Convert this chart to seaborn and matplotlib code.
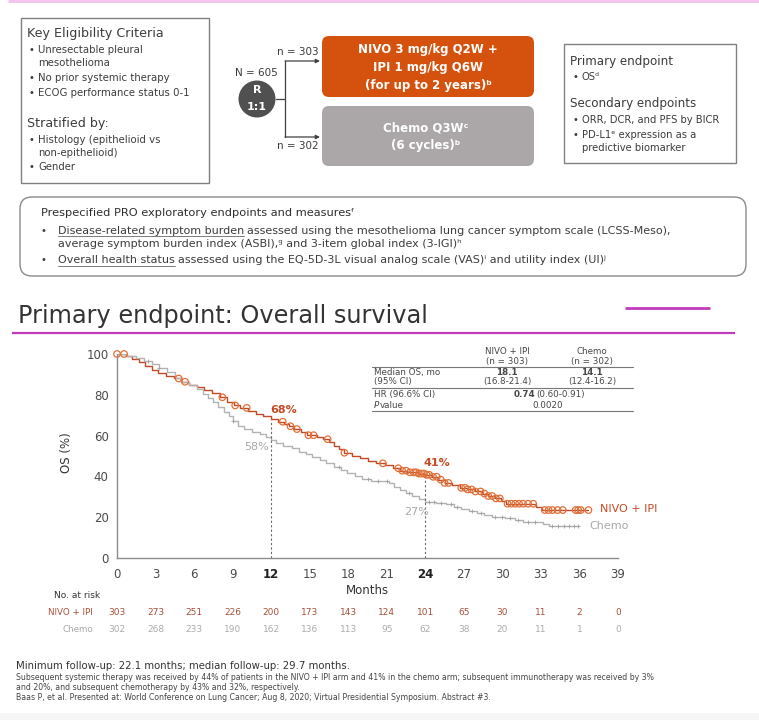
import numpy as np
import pandas as pd
import matplotlib
matplotlib.use("Agg")
import matplotlib.pyplot as plt
import seaborn as sns
from matplotlib.patches import FancyBboxPatch, Rectangle, Circle
import matplotlib.transforms as mtransforms

# ---------------- data ----------------
month_ticks = list(range(0, 40, 3))
nivo_at_risk = [303, 273, 251, 226, 200, 173, 143, 124, 101, 65, 30, 11, 2, 0]
chemo_at_risk = [302, 268, 233, 190, 162, 136, 113, 95, 62, 38, 20, 11, 1, 0]

nivo_t = [0, 0.7, 1.2, 1.7, 2.2, 2.7, 3.2, 3.8, 4.4, 5.0, 5.6, 6.2, 6.8, 7.4, 8.0, 8.6, 9.1, 9.6,
          10.2, 10.8, 11.4, 12.0, 12.5, 13.0, 13.4, 13.8, 14.3, 14.8, 15.6, 16.0, 16.5, 16.9, 17.3,
          17.7, 18.3, 18.9, 19.5, 20.2, 20.9, 21.5, 22.0, 22.6, 23.4, 24.0, 24.5, 25.0, 25.5, 26.1,
          26.7, 27.3, 27.9, 28.4, 28.9, 29.4, 29.9, 30.3, 32.6, 33.1, 36.7]
nivo_s = [100, 99.0, 97.6, 96.0, 94.2, 92.2, 90.6, 89.4, 88.0, 86.4, 84.8, 83.6, 82.4, 80.8, 78.8,
          76.6, 74.8, 73.6, 72.2, 70.8, 69.4, 68.0, 66.8, 65.8, 64.6, 63.2, 61.8, 60.2, 59.2, 58.2,
          56.8, 55.0, 53.2, 51.6, 50.2, 48.8, 47.6, 46.4, 45.4, 44.0, 42.8, 42.0, 41.4, 40.8, 39.8,
          38.4, 36.8, 35.6, 34.4, 33.6, 32.6, 31.6, 30.4, 29.2, 28.0, 26.6, 25.2, 23.5, 23.5]

chemo_t = [0, 0.8, 1.5, 2.1, 2.7, 3.3, 3.9, 4.5, 5.0, 5.6, 6.2, 6.7, 7.1, 7.5, 7.9, 8.3, 8.7, 9.0,
           9.4, 9.9, 10.5, 11.1, 11.6, 12.0, 12.4, 12.9, 13.6, 14.2, 14.7, 15.2, 15.8, 16.3, 16.9,
           17.4, 17.9, 18.5, 19.1, 19.8, 21.2, 21.6, 22.0, 22.5, 23.0, 23.5, 24.0, 24.8, 25.6, 26.2,
           26.8, 27.4, 28.0, 28.6, 29.2, 30.2, 31.0, 31.6, 33.2, 33.6, 36.0]
chemo_s = [100, 99.2, 98.0, 96.6, 95.0, 93.2, 91.0, 88.2, 86.4, 84.8, 82.6, 80.6, 78.6, 76.4, 74.0,
           71.8, 69.6, 67.2, 64.8, 63.4, 62.0, 60.6, 59.2, 58.0, 56.2, 55.0, 53.8, 52.2, 50.8, 49.6,
           48.0, 46.4, 44.6, 43.0, 41.6, 40.0, 38.8, 37.6, 36.6, 35.0, 33.4, 31.8, 30.4, 28.8, 27.6,
           27.0, 26.4, 25.0, 24.0, 23.2, 22.0, 21.0, 20.2, 19.4, 18.4, 17.6, 16.6, 15.7, 15.7]

nivo_censor = [0.0, 0.55, 4.8, 5.3, 8.2, 9.2, 10.1, 12.9, 13.5, 14.0, 14.9, 15.3, 16.4, 17.7, 20.7,
               21.9, 22.2, 22.5, 22.8, 23.1, 23.3, 23.5, 23.7, 23.9, 24.1, 24.3, 24.6, 24.9, 25.2,
               25.5, 25.8, 26.8, 27.1, 27.3, 27.6, 27.9, 28.3, 28.6, 28.9, 29.2, 29.5, 29.8, 30.4,
               30.7, 31.0, 31.3, 31.6, 32.0, 32.4, 33.3, 33.6, 33.9, 34.3, 34.7, 35.7, 35.9, 36.1, 36.7]
chemo_censor = [2.4, 3.3, 9.0, 17.3, 19.5, 20.3, 21.0, 22.7, 24.3, 24.7, 25.2, 26.0, 26.5, 27.6,
                28.3, 29.4, 30.0, 30.6, 31.2, 32.0, 32.5, 33.9, 34.3, 34.8, 35.2, 35.6, 35.9]

# ---------------- style ----------------
sns.set_theme(style="white")
plt.rcParams["font.family"] = ["DejaVu Sans"]

ORANGE = "#D4520E"
NIVO_LINE = "#C24A26"
NIVO_MARK = "#E07038"
GRAY_BOX = "#ABA7A8"
TXT = "#3C3C3C"
MAGENTA = "#C43ABD"

W, H = 759, 720
fig = plt.figure(figsize=(W / 100, H / 100), dpi=100)
fig.patch.set_facecolor("white")
bg = fig.add_axes([0, 0, 1, 1], zorder=0)
bg.set_xlim(0, W)
bg.set_ylim(H, 0)
bg.axis("off")

def T(x, y, s, size=7, color=TXT, ha="left", va="center", **kw):
    return bg.text(x, y, s, fontsize=size, color=color, ha=ha, va=va, **kw)

# top and bottom decor
bg.plot([8, W], [1, 1], color="#F2C4EE", lw=2.2, solid_capstyle="butt")
bg.add_patch(Rectangle((0, 713), W, 7, fc="#F6F6F6", ec="none"))

# ---- eligibility box ----
bg.add_patch(Rectangle((21, 18), 188, 165, fc="white", ec="#808080", lw=1))
T(27, 33.5, "Key Eligibility Criteria", size=9.1)
for y, s, b in [(50, "Unresectable pleural", True), (62.7, "mesothelioma", False),
                (77.7, "No prior systemic therapy", True), (92.7, "ECOG performance status 0-1", True),
                (140, "Histology (epithelioid vs", True), (153.3, "non-epithelioid)", False),
                (167.3, "Gender", True)]:
    if b:
        T(28, y, "•", size=7)
    T(38.5, y, s, size=7.25)
T(27, 124, "Stratified by:", size=9.1)

# ---- randomisation diagram ----
T(256, 73, "N = 605", size=7.5, ha="center")
bg.add_patch(Circle((257, 99), 18.5, fc="#505050", ec="none"))
T(257, 90, "R", size=8, color="white", ha="center", weight="bold")
T(257, 107.5, "1:1", size=8, color="white", ha="center", weight="bold")
bg.plot([275.5, 285, 285], [99, 99, 61], color="#404040", lw=0.9)
bg.plot([285, 285], [99, 137], color="#404040", lw=0.9)
for yy in (61, 137):
    bg.annotate("", xy=(320, yy), xytext=(285, yy),
                arrowprops=dict(arrowstyle="-|>", color="#404040", lw=0.9, mutation_scale=6,
                                shrinkA=0, shrinkB=0))
T(298, 51.7, "n = 303", size=7.5, ha="center")
T(298, 145.7, "n = 302", size=7.5, ha="center")

bg.add_patch(FancyBboxPatch((322, 36), 212, 61, boxstyle="round,pad=0,rounding_size=7",
                            fc=ORANGE, ec="none"))
T(428, 49.3, "NIVO 3 mg/kg Q2W +", size=8.5, color="white", ha="center", weight="bold")
T(428, 67.5, "IPI 1 mg/kg Q6W", size=8.5, color="white", ha="center", weight="bold")
T(428, 85, "(for up to 2 years)ᵇ", size=8.5, color="white", ha="center", weight="bold")
bg.add_patch(FancyBboxPatch((322, 106), 212, 60, boxstyle="round,pad=0,rounding_size=7",
                            fc=GRAY_BOX, ec="none"))
T(426, 127.7, "Chemo Q3Wᶜ", size=8.5, color="white", ha="center", weight="bold")
T(426, 146, "(6 cycles)ᵇ", size=8.5, color="white", ha="center", weight="bold")

# ---- endpoints box ----
bg.add_patch(Rectangle((564, 44), 172, 119, fc="white", ec="#808080", lw=1))
T(570, 61, "Primary endpoint", size=8.6)
T(572, 77.5, "•", size=7)
T(582, 77.5, "OSᵈ", size=7.2)
T(570, 104, "Secondary endpoints", size=8.6)
T(572, 120, "•", size=7)
T(582, 120, "ORR, DCR, and PFS by BICR", size=7.2)
T(572, 135, "•", size=7)
T(582, 135, "PD-L1ᵉ expression as a", size=7.2)
T(582, 147.7, "predictive biomarker", size=7.2)

# ---- PRO box ----
bg.add_patch(FancyBboxPatch((20, 197), 726, 79, boxstyle="round,pad=0,rounding_size=12",
                            fc="white", ec="#8A8A8A", lw=1))
T(41, 212.5, "Prespecified PRO exploratory endpoints and measuresᶠ", size=8.2, color="#2E2E2E")

fig.canvas.draw()
renderer = fig.canvas.get_renderer()

PRO_FS = 8.0

def underlined_line(x, y, first, rest, size=PRO_FS):
    t1 = T(x, y, first, size=size)
    bb = t1.get_window_extent(renderer=renderer)
    x1 = bb.x1
    bg.plot([x, x1], [y + 5.8, y + 5.8], color="#666666", lw=0.6)
    T(x1 + 3, y, rest, size=size)

T(41, 230.5, "•", size=7)
underlined_line(58, 230.5, "Disease-related symptom burden",
                "assessed using the mesothelioma lung cancer symptom scale (LCSS-Meso),")
T(58, 243.8, "average symptom burden index (ASBI),ᵍ and 3-item global index (3-IGI)ʰ", size=PRO_FS)
T(41, 260, "•", size=7)
underlined_line(58, 260, "Overall health status",
                "assessed using the EQ-5D-3L visual analog scale (VAS)ⁱ and utility index (UI)ʲ")

# ---- title ----
T(18, 316, "Primary endpoint: Overall survival", size=17.3, color="#333333")
bg.plot([625, 710], [307.7, 307.7], color=MAGENTA, lw=2, solid_capstyle="butt")
bg.plot([12, 735], [333.3, 333.3], color=MAGENTA, lw=1.6, solid_capstyle="butt")

# ---------------- KM plot ----------------
ax = fig.add_axes([117 / W, (H - 558) / H, 501 / W, 204 / H], zorder=2)
ax.patch.set_alpha(0)

df = pd.concat([
    pd.DataFrame({"Months": nivo_t, "OS": nivo_s, "arm": "NIVO + IPI"}),
    pd.DataFrame({"Months": chemo_t, "OS": chemo_s, "arm": "Chemo"}),
])
sns.lineplot(data=df, x="Months", y="OS", hue="arm", estimator=None, sort=False,
             palette={"NIVO + IPI": NIVO_LINE, "Chemo": "#B3B3B3"},
             drawstyle="steps-post", lw=1.0, legend=False, ax=ax)

def step_at(times, ts, ss):
    idx = np.searchsorted(np.asarray(ts), np.asarray(times), side="right") - 1
    return np.asarray(ss)[np.clip(idx, 0, len(ss) - 1)]

sns.scatterplot(x=chemo_censor, y=step_at(chemo_censor, chemo_t, chemo_s), marker="+",
                s=7, color="#A0A0A0", linewidth=0.6, ax=ax, clip_on=False, zorder=3)
sns.scatterplot(x=nivo_censor, y=step_at(nivo_censor, nivo_t, nivo_s), marker="o",
                s=22, facecolor="none", edgecolor=NIVO_MARK, linewidth=0.9, ax=ax,
                clip_on=False, zorder=4)

ax.set_xlim(0, 39)
ax.set_ylim(0, 100)
ax.set_xticks(month_ticks)
ax.set_yticks(range(0, 101, 20))
ax.set_xlabel("")
ax.set_ylabel("")
for side in ("top", "right"):
    ax.spines[side].set_visible(False)
for side in ("left", "bottom"):
    ax.spines[side].set_color("#8C8C8C")
    ax.spines[side].set_linewidth(1)
ax.tick_params(axis="both", which="major", length=4.5, width=0.9, color="#8C8C8C",
               labelsize=8.5, labelcolor="#4A4A4A", direction="out")
ax.tick_params(axis="y", pad=1.5)
ax.tick_params(axis="x", pad=3)
ax.grid(False)
for lab in ax.get_xticklabels():
    if lab.get_text() in ("12", "24"):
        lab.set_color("#222222")
        lab.set_fontweight("bold")

ax.plot([12, 12], [0, 67.5], color="#6A6A6A", lw=0.8, ls=(0, (2, 2)))
ax.plot([24, 24], [0, 40.5], color="#6A6A6A", lw=0.8, ls=(0, (2, 2)))

blend = mtransforms.blended_transform_factory(ax.transData, bg.transData)
ax.text(13, 410, "68%", transform=blend, fontsize=8, color="#C44A22", weight="bold",
        ha="center", va="center")
ax.text(10.9, 447.3, "58%", transform=blend, fontsize=8, color="#A8A8A8", ha="center", va="center")
ax.text(24.9, 463.3, "41%", transform=blend, fontsize=8, color="#C44A22", weight="bold",
        ha="center", va="center")
ax.text(23.3, 511.7, "27%", transform=blend, fontsize=8, color="#A8A8A8", ha="center", va="center")
ax.text(37.6, 509.5, "NIVO + IPI", transform=blend, fontsize=8, color="#C44A22", ha="left", va="center")
ax.text(36.8, 526, "Chemo", transform=blend, fontsize=8, color="#A8A8A8", ha="left", va="center")

# summary table
tc = "#474747"
fs = 6.3
T(507, 352, "NIVO + IPI", size=fs, color=tc, ha="center")
T(507, 361.7, "(n = 303)", size=fs, color=tc, ha="center")
T(592, 352, "Chemo", size=fs, color=tc, ha="center")
T(592, 361.7, "(n = 302)", size=fs, color=tc, ha="center")
for yy in (367, 388.3, 411):
    bg.plot([372, 633], [yy, yy], color="#777777", lw=0.8)
T(374, 372.3, "Median OS, mo", size=fs, color=tc)
T(374, 381.7, "(95% CI)", size=fs, color=tc)
T(507, 372.3, "18.1", size=fs, color=tc, ha="center", weight="bold")
T(507, 381.7, "(16.8-21.4)", size=fs, color=tc, ha="center")
T(592, 372.3, "14.1", size=fs, color=tc, ha="center", weight="bold")
T(592, 381.7, "(12.4-16.2)", size=fs, color=tc, ha="center")
T(374, 394.3, "HR (96.6% CI)", size=fs, color=tc)
T(374, 405, "P", size=fs, color=tc, style="italic")
T(380, 405, "value", size=fs, color=tc)
T(535, 394.3, "0.74", size=fs, color=tc, ha="right", weight="bold")
T(536, 394.3, "(0.60-0.91)", size=fs, color=tc, ha="left")
T(548, 405, "0.0020", size=fs, color=tc, ha="center")

# axis titles
T(367.5, 590, "Months", size=8.5, color="#333333", ha="center")
T(66.7, 453, "OS (%)", size=8.5, color="#333333", ha="center", rotation=90)

# at-risk table
T(53.5, 595, "No. at risk", size=6.5, color="#333333")
T(93, 612.7, "NIVO + IPI", size=6.3, color="#A8503A", ha="right")
T(93, 629, "Chemo", size=6.3, color="#A8A8A8", ha="right")
for m, a, b in zip(month_ticks, nivo_at_risk, chemo_at_risk):
    ax.text(m, 612.7, str(a), transform=blend, fontsize=6.5, color="#A8503A", ha="center", va="center")
    ax.text(m, 629, str(b), transform=blend, fontsize=6.5, color="#ABABAB", ha="center", va="center")

# footnotes
T(15.6, 666, "Minimum follow-up: 22.1 months; median follow-up: 29.7 months.", size=7.3, color="#333333")
FN = 5.6
T(15.6, 677.7, "Subsequent systemic therapy was received by 44% of patients in the NIVO + IPI arm and 41% in the chemo arm; subsequent immunotherapy was received by 3%",
  size=FN, color="#444444")
T(15.6, 687.7, "and 20%, and subsequent chemotherapy by 43% and 32%, respectively.", size=FN, color="#444444")
T(15.6, 697.7, "Baas P, et al. Presented at: World Conference on Lung Cancer; Aug 8, 2020; Virtual Presidential Symposium. Abstract #3.",
  size=FN, color="#444444")

fig.savefig("out.png", dpi=100, facecolor="white")
